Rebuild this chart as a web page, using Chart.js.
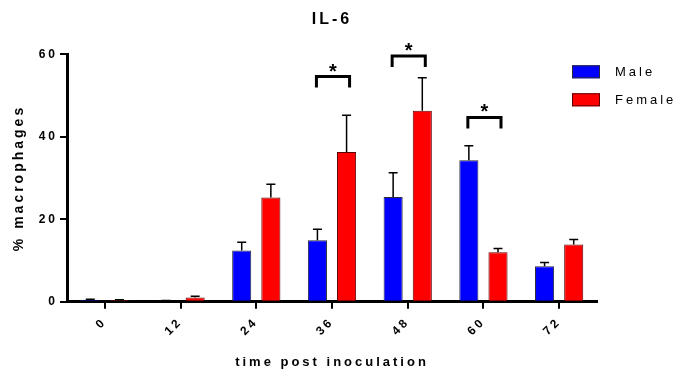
<!DOCTYPE html>
<html>
<head>
<meta charset="UTF-8">
<title>IL-6</title>
<script src="https://cdn.jsdelivr.net/npm/chart.js"></script>
<style>
  html, body { margin: 0; padding: 0; background: #fff; }
  #wrap { width: 678px; height: 371px; position: relative; }
</style>
</head>
<body>
<div id="wrap"><canvas id="il6Chart"></canvas></div>
<script>
// data
const categories = ['0', '12', '24', '36', '48', '60', '72'];
const maleMean   = [0.5, 0.2, 12.4, 14.9, 25.4, 34.3, 8.6];
const maleSem    = [0.1, 0.1, 2.0, 2.7, 5.9, 3.5, 0.9];
const femaleMean = [0.4, 1.0, 25.3, 36.3, 46.3, 12.0, 13.9];
const femaleSem  = [0.1, 0.3, 3.2, 8.9, 8.0, 0.9, 1.2];
const yTicks = [0, 20, 40, 60];
// significance brackets (category, bracket level in % units)
const sigCategories = ['36', '48', '60'];
const sigLevels = [54.6, 59.6, 44.7];

const FONT = '"Liberation Sans", Arial, sans-serif';

// upper-only error bars
const errorBars = {
    id: 'errorBars',
    afterDatasetsDraw(chart) {
        const ctx = chart.ctx;
        const y = chart.scales.y;
        const sems = [maleSem, femaleSem];
        ctx.save();
        ctx.strokeStyle = '#000';
        ctx.lineWidth = 1.5;
        chart.data.datasets.forEach((ds, i) => {
            chart.getDatasetMeta(i).data.forEach((bar, j) => {
                const top = y.getPixelForValue(ds.data[j] + sems[i][j]);
                ctx.beginPath();
                ctx.moveTo(bar.x, bar.y);
                ctx.lineTo(bar.x, top);
                ctx.moveTo(bar.x - 4.5, top);
                ctx.lineTo(bar.x + 4.5, top);
                ctx.stroke();
            });
        });
        ctx.restore();
    }
};

// brackets with stars
const sigBrackets = {
    id: 'sigBrackets',
    afterDatasetsDraw(chart) {
        const ctx = chart.ctx;
        const y = chart.scales.y;
        const m0 = chart.getDatasetMeta(0), m1 = chart.getDatasetMeta(1);
        ctx.save();
        ctx.strokeStyle = '#000';
        ctx.fillStyle = '#000';
        ctx.lineWidth = 3;
        ctx.lineJoin = 'miter';
        sigCategories.forEach((cat, k) => {
            const j = categories.indexOf(cat);
            const x1 = m0.data[j].x - 1, x2 = m1.data[j].x + 3;
            const yt = y.getPixelForValue(sigLevels[k]);
            ctx.beginPath();
            ctx.moveTo(x1, yt + 11);
            ctx.lineTo(x1, yt);
            ctx.lineTo(x2, yt);
            ctx.lineTo(x2, yt + 11);
            ctx.stroke();
            ctx.font = 'bold 20px ' + FONT;
            ctx.letterSpacing = '0px';
            ctx.textAlign = 'center';
            ctx.textBaseline = 'alphabetic';
            ctx.fillText('*', (x1 + x2) / 2, yt + 1);
        });
        ctx.restore();
    }
};

// legend at the top right
const sideLegend = {
    id: 'sideLegend',
    afterDraw(chart) {
        const ctx = chart.ctx;
        const area = chart.chartArea;
        ctx.save();
        ctx.font = '13px ' + FONT;
        ctx.letterSpacing = '3px';
        ctx.textAlign = 'left';
        ctx.textBaseline = 'middle';
        chart.data.datasets.forEach((ds, i) => {
            const bx = area.right - 25, by = area.top + 11 + i * 28;
            ctx.fillStyle = ds.backgroundColor;
            ctx.fillRect(bx, by, 28, 13);
            ctx.strokeStyle = ds.borderColor;
            ctx.lineWidth = 1;
            ctx.strokeRect(bx + 0.5, by + 0.5, 27, 12);
            ctx.fillStyle = '#000';
            ctx.fillText(ds.label, bx + 43, by + 7);
        });
        ctx.restore();
    }
};

const spacing = {
    id: 'spacing',
    beforeDraw(chart) { chart.ctx.letterSpacing = '3px'; }
};

const ctx = document.getElementById('il6Chart').getContext('2d');
const chart = new Chart(ctx, {
    type: 'bar',
    data: {
        labels: categories,
        datasets: [
            { label: 'Male', data: maleMean, backgroundColor: '#0000ff', borderColor: '#2a2a3a', borderWidth: 1 },
            { label: 'Female', data: femaleMean, backgroundColor: '#ff0000', borderColor: '#5a0000', borderWidth: 1 }
        ]
    },
    options: {
        responsive: true,
        maintainAspectRatio: false,
        animation: false,
        categoryPercentage: 0.77,
        barPercentage: 0.655,
        layout: { padding: { left: 0, right: 81, top: 0, bottom: 0 } },
        plugins: {
            legend: { display: false },
            tooltip: { enabled: false },
            title: {
                display: true,
                text: 'IL-6',
                fullSize: false,
                color: '#000',
                font: { family: FONT, size: 16, weight: 'bold' },
                padding: { top: 9.5, bottom: 25.6 }
            }
        },
        scales: {
            x: {
                grid: { display: true, offset: false, drawOnChartArea: false, drawTicks: true, tickLength: 7, lineWidth: 2, color: '#000' },
                border: { display: true, color: '#000', width: 3 },
                ticks: {
                    color: '#000',
                    font: { family: FONT, size: 12, weight: 'bold' },
                    minRotation: 45, maxRotation: 45,
                    padding: 6
                },
                title: {
                    display: true,
                    text: 'time post inoculation',
                    color: '#000',
                    font: { family: FONT, size: 13, weight: 'bold' },
                    padding: { top: 0, bottom: 1 }
                },
                afterFit(scale) { scale.height = 69.3; }
            },
            y: {
                min: 0, max: 60,
                afterBuildTicks(scale) { scale.ticks = yTicks.map(v => ({ value: v })); },
                grid: { display: true, drawOnChartArea: false, drawTicks: true, tickLength: 7, lineWidth: 2, color: '#000' },
                border: { display: true, color: '#000', width: 3 },
                ticks: {
                    color: '#000',
                    font: { family: FONT, size: 12, weight: 'bold' },
                    padding: 2
                },
                title: {
                    display: true,
                    text: '% macrophages',
                    color: '#000',
                    font: { family: FONT, size: 14, weight: 'bold' },
                    padding: { top: 10.6, bottom: 0 }
                },
                afterFit(scale) { scale.width = 67; }
            }
        }
    },
    plugins: [spacing, errorBars, sigBrackets, sideLegend]
});
</script>
</body>
</html>
